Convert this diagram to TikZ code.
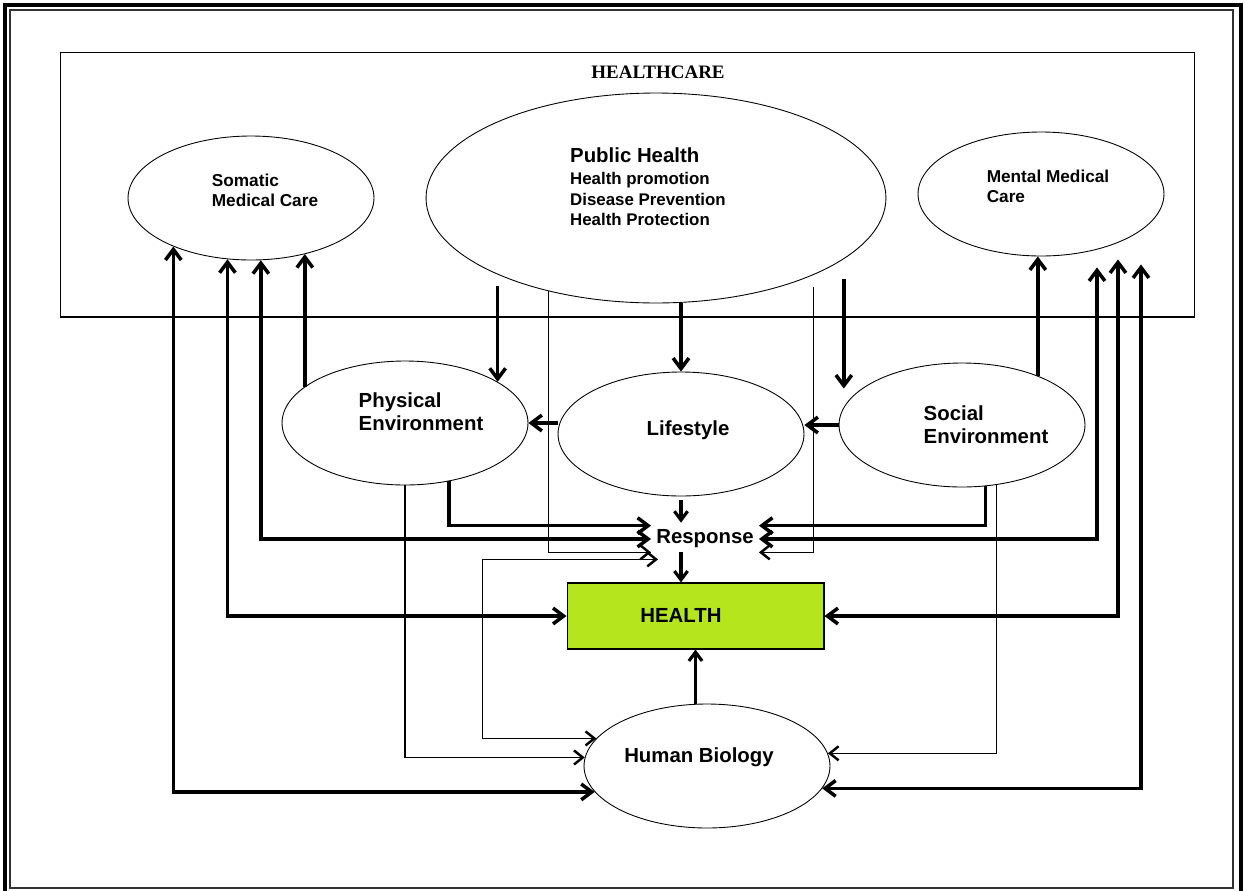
\documentclass[tikz,border=0pt]{standalone}
\usepackage{fontspec}
\setmainfont{Liberation Sans}
\newfontfamily\hcserif{Liberation Serif}
\usetikzlibrary{shapes.geometric,arrows.meta,calc}
\definecolor{limegreen}{RGB}{181,230,29}

\begin{document}
\begin{tikzpicture}[x=0.02cm,y=-0.02cm,
	ell/.style={ellipse,draw,line width=.5pt,inner sep=0pt,minimum width=4.92cm,minimum height=2.48cm},
	txt/.style={align=left,inner sep=0pt,font=\fontsize{11.6}{13}\selectfont\bfseries},
	small/.style={align=left,inner sep=0pt,font=\fontsize{9.8}{11.3}\selectfont\bfseries},
	thk/.style={line width=2pt,>={Straight Barb[length=6pt,width=9pt]}},
	med/.style={line width=1.8pt,>={Straight Barb[length=5pt,width=7.5pt]}},
	thn/.style={line width=.6pt,>={Straight Barb[length=5pt,width=8pt,line width=1.4pt]}}]
	\useasboundingbox (0,0) rectangle (1245,890);
	% page frame
	\draw [line width=2.3pt] (5,895) -- (5,5) -- (1241,5) -- (1241,895);
	\draw [line width=.6pt,black!80] (10,10) rectangle (1233,888);
	% healthcare
	\node[draw,line width=.6pt,inner sep=0pt,minimum width=22.7cm,minimum height=5.3cm] (hc) at (627.5,184.5) {};
	\node[inner sep=0pt,font=\hcserif\fontsize{10.8}{12}\selectfont\bfseries] (hc-t) at (658,72) {HEALTHCARE};
	\node[ell] (som) at (251,198) {};
	\node[small] (som-t) at (265,190) {Somatic\\Medical Care};
	\node[ell,minimum width=9.2cm,minimum height=4.2cm] (ph) at (656,198) {};
	\node[small,font=\fontsize{9.6}{11.6}\selectfont\bfseries] (ph-t) at (648,187) {{\fontsize{11.6}{13}\selectfont Public Health}\\[1pt]Health promotion\\Disease Prevention\\Health Protection};
	\node[ell] (mmc) at (1041,194) {};
	\node[small] (mmc-t) at (1048,186) {Mental Medical\\Care};
	% determinants
	\node[ell] (phy) at (405,423) {};
	\node[txt] (phy-t) at (421,412) {Physical\\Environment};
	\node[ell] (life) at (681,434) {};
	\node[txt] (life-t) at (688,430) {Lifestyle};
	\node[ell] (soc) at (962,425) {};
	\node[txt] (soc-t) at (986,425) {Social\\Environment};
	\node[txt,inner xsep=2.8pt,minimum height=.52cm] (resp) at (705,539) {Response};
	\node[draw,line width=.6pt,fill=limegreen,inner sep=0pt,minimum width=5.14cm,minimum height=1.32cm] (health) at (695.5,616) {};
	\node[txt] (health-t) at (681,615) {HEALTH};
	\node[ell] (hb) at (707,766) {};
	\node[txt] (hb-t) at (699,757) {Human Biology};
	% public health
	\draw [thk,->] ($(phy.24 |- ph.205)+(0,13)$) -- (phy.24);
	\draw [thk,->] (life.north |- ph.south) -- (life.north);
	\draw [thk,->] ($(ph.342)+(0,20)$) -- (ph.342 |- soc.160);
	\draw [thn,->] (ph.221) |- (resp.south west);
	\draw [thn,->] ($(ph.334)+(0,12)$) |- (resp.south east);
	% somatic care
	\draw [thk,<->] (som.212) |- (hb.193);
	\draw [thk,<->] (som.249) |- (health.west);
	\draw [thk,<->] (som.279) |- (resp.west);
	\draw [thk,->] (phy.160) -- (phy.160 |- som.314);
	% physical environment
	\draw [thk,->] (phy.307) |- (resp.north west);
	\draw [thk,->] (phy.east -| life.west) -- (phy.east);
	\draw [thn,->] (phy.south) |- (hb.176);
	% lifestyle, response, health
	\draw [med,->] ($(life.south)+(0,4)$) -- ($(life.south |- resp.north)+(0,-3)$);
	\draw [med,->] (life.south |- resp.south) -- (life.south |- health.north);
	\draw [med,->] (health.south |- hb.north) -- (health.south);
	\draw [thn,<->] ([xshift=4pt,yshift=-4pt]resp.south west) -- ++(-176,0) |- (hb.166);
	% social environment
	\draw [thk,->] (soc.west) -- (soc.west -| life.east);
	\draw [thk,->] (soc.291) |- (resp.north east);
	\draw [thk,->] (soc.33) -- (soc.33 |- mmc.south);
	\draw [thn,->] (soc.300) |- (hb.6);
	% mental care
	\draw [thk,<->] ($(mmc.south)+(56,11)$) |- (resp.east);
	\draw [thk,<->] ($(mmc.south)+(77,3)$) |- (health.east);
	\draw [thk,<->] ($(mmc.south)+(100,8)$) |- (hb.349);
\end{tikzpicture}
\end{document}
